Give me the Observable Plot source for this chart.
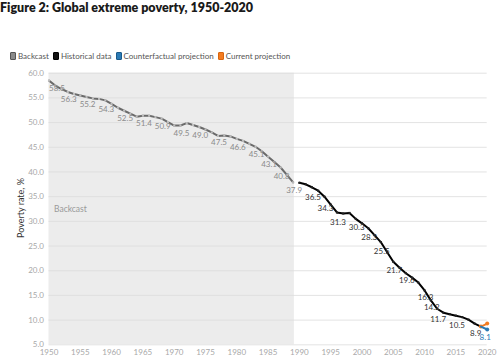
<!DOCTYPE html>
<html><head><meta charset="utf-8">
<script src="https://cdn.jsdelivr.net/npm/d3@7"></script>
<script src="https://cdn.jsdelivr.net/npm/@observablehq/plot@0.6"></script>
<style>
body{margin:0;background:#fff;font-family:Lato,"Noto Sans",sans-serif;}
#wrap{position:relative;width:500px;height:362px;}
#title{position:absolute;left:0;top:0px;font-weight:800;font-size:12.5px;color:#1a1a1a;white-space:nowrap;}
#legend{position:absolute;left:10px;top:51px;font-size:8px;color:#555;display:flex;align-items:center;white-space:nowrap;}
.item{display:flex;align-items:center;margin-right:4px;}
.sw{display:inline-block;width:4px;height:6px;border-radius:1px;margin-right:2px;border:1px solid;}
#ylab{position:absolute;left:20px;top:208px;transform:translate(-50%,-50%) rotate(-90deg);font-size:9px;color:#333;white-space:nowrap;}
svg{position:absolute;left:0;top:0;}
</style></head>
<body><div id="wrap">
<div id="chart"></div>
<div id="title">Figure 2: Global extreme poverty, 1950-2020</div>
<div id="legend"></div>
<div id="ylab">Poverty rate, %</div>
</div>
<script>
// ---- data ----
const backcastYears = [1950,1951,1952,1953,1954,1955,1956,1957,1958,1959,1960,1961,1962,1963,1964,1965,1966,1967,1968,1969,1970,1971,1972,1973,1974,1975,1976,1977,1978,1979,1980,1981,1982,1983,1984,1985,1986,1987,1988,1989];
const backcastValues = [58.5,57.5,56.8,56.2,55.8,55.5,55.2,54.9,54.8,54.5,53.8,53.0,52.4,51.8,51.2,51.4,51.4,51.1,50.8,50.1,49.4,49.4,49.9,49.5,49.1,48.6,48.0,47.3,47.4,47.2,46.7,46.3,45.7,45.1,44.2,43.1,42.0,40.9,39.4,37.9];
const historicalYears = [1990,1991,1992,1993,1994,1995,1996,1997,1998,1999,2000,2001,2002,2003,2004,2005,2006,2007,2008,2009,2010,2011,2012,2013,2014,2015,2016,2017,2018,2019];
const historicalValues = [37.8,37.5,36.9,36.2,35.0,33.4,31.8,31.6,31.7,30.5,29.6,28.6,27.2,25.8,23.8,21.8,20.6,19.5,18.6,17.6,16.0,14.0,12.3,11.5,11.2,10.9,10.6,10.1,9.3,8.7];
const counterfactualYears = [2019,2020];
const counterfactualValues = [8.7,8.1];
const currentYears = [2019,2020];
const currentValues = [8.7,9.3];
const backcastLabelYears = [1950,1953,1956,1959,1962,1965,1968,1971,1974,1977,1980,1983,1985,1987,1989];
const backcastLabelValues = [58.5,56.3,55.2,54.3,52.5,51.4,50.9,49.5,49.0,47.5,46.6,45.1,43.1,40.8,37.9];
const historicalLabelYears = [1992,1994,1996,1999,2001,2003,2005,2007,2010,2011,2012,2015,2018];
const historicalLabelValues = [36.5,34.3,31.3,30.3,28.3,25.5,21.7,19.6,16.3,14.2,11.7,10.5,8.9];
const counterfactualLabelYears = [2020];
const counterfactualLabelValues = [8.1];
const shadeRange = [1950, 1989.2];
const xTicks = [1950,1955,1960,1965,1970,1975,1980,1985,1990,1995,2000,2005,2010,2015,2020];
const yTicks = [5,10,15,20,25,30,35,40,45,50,55,60];
const seriesNames = ["Backcast","Historical data","Counterfactual projection","Current projection"];
const seriesColors = ["#8a8a8a","#111111","#2a7ab5","#f47c20"];
const seriesBorders = ["#555555","#000000","#1a5a8a","#d8650f"];

// ---- build ----
const toRows = (xs, ys) => xs.map((x, i) => ({x, y: ys[i]}));
const backcast = toRows(backcastYears, backcastValues);
const historical = toRows(historicalYears, historicalValues);
const counterfactual = toRows(counterfactualYears, counterfactualValues);
const current = toRows(currentYears, currentValues);
const bLabels = toRows(backcastLabelYears, backcastLabelValues);
const hLabels = toRows(historicalLabelYears, historicalLabelValues);
const cLabels = toRows(counterfactualLabelYears, counterfactualLabelValues);
const fmt = d3.format(".1f");

const chart = Plot.plot({
  width: 500, height: 362,
  marginLeft: 48.5, marginRight: 13.3, marginTop: 72.7, marginBottom: 17.7,
  style: {fontFamily: "Lato, 'Noto Sans', sans-serif", background: "transparent"},
  x: {domain: [1950, 2020], ticks: xTicks, tickFormat: d3.format("d"), tickSize: 0, tickPadding: 5, label: null},
  y: {domain: [5, 60], ticks: yTicks, tickFormat: fmt, tickSize: 0, tickPadding: 5, label: null},
  marks: [
    Plot.rect([{x1: shadeRange[0], x2: shadeRange[1]}], {x1: "x1", x2: "x2", y1: 5, y2: 60, fill: "#ececec"}),
    Plot.gridY(yTicks, {stroke: "#dcdcdc", strokeOpacity: 1, strokeWidth: 0.8}),
    Plot.text(["Backcast"], {x: shadeRange[0], y: 32.5, text: d => d, textAnchor: "start", dx: 5, fill: "#9a9a9a", fontSize: 8.5}),
    Plot.line(backcast, {x: "x", y: "y", stroke: "#6a6a6a", strokeWidth: 2}),
    Plot.dot(backcast, {x: "x", y: "y", symbol: "square", r: 1.2, fill: "#bdbdbd", stroke: "none"}),
    Plot.line(historical, {x: "x", y: "y", stroke: "#000", strokeWidth: 2}),
    Plot.dot(historical, {x: "x", y: "y", symbol: "square", r: 1.2, fill: "#222", stroke: "none"}),
    Plot.line(current, {x: "x", y: "y", stroke: seriesColors[3], strokeWidth: 2}),
    Plot.dot(current, {x: "x", y: "y", r: 2, fill: seriesColors[3]}),
    Plot.line(counterfactual, {x: "x", y: "y", stroke: seriesColors[2], strokeWidth: 2}),
    Plot.dot(counterfactual.slice(1), {x: "x", y: "y", r: 2, fill: seriesColors[2]}),
    Plot.text(bLabels.slice(0, 1), {x: "x", y: "y", text: d => fmt(d.y), textAnchor: "start", dy: 8, fill: "#8a8a8a", fontSize: 8}),
    Plot.text(bLabels.slice(1), {x: "x", y: "y", text: d => fmt(d.y), dx: 1, dy: 8, fill: "#8a8a8a", fontSize: 8}),
    Plot.text(hLabels, {x: "x", y: "y", text: d => fmt(d.y), dx: 1, dy: 8, fill: "#333", fontSize: 8}),
    Plot.text(cLabels, {x: "x", y: "y", text: d => fmt(d.y), dx: -2, dy: 8, fill: seriesColors[2], fontSize: 8})
  ]
});
chart.querySelectorAll('g[aria-label="x-axis tick label"], g[aria-label="y-axis tick label"]').forEach(g => {
  g.setAttribute("fill", "#a8a8a8");
  g.setAttribute("font-size", "8");
});
document.getElementById("chart").appendChild(chart);

const legend = document.getElementById("legend");
seriesNames.forEach((n, i) => {
  const it = document.createElement("span");
  it.className = "item";
  it.innerHTML = `<span class="sw" style="background:${seriesColors[i]};border-color:${seriesBorders[i]}"></span>${n}`;
  legend.appendChild(it);
});
</script>
</body></html>
